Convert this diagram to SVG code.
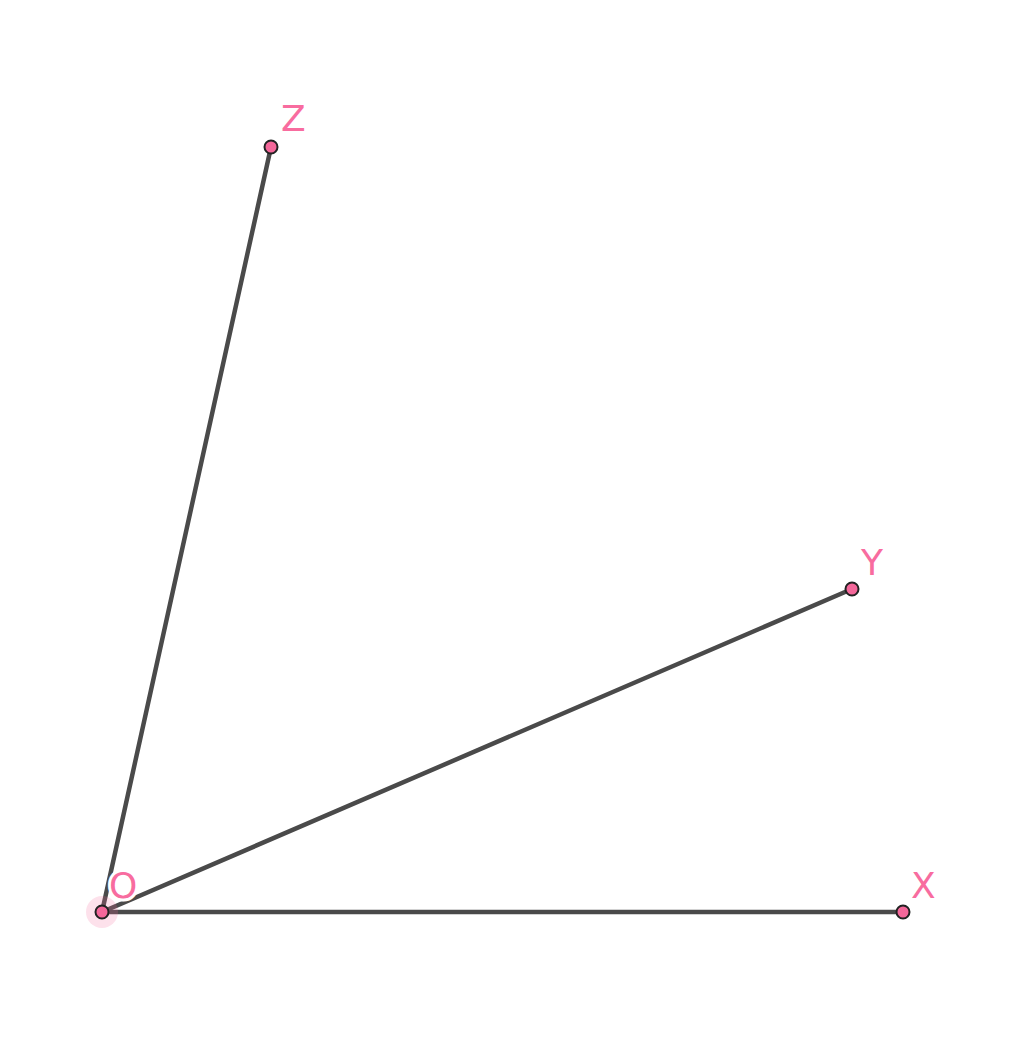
<svg xmlns="http://www.w3.org/2000/svg" width="1024" height="1043" viewBox="0 0 1024 1043">
<style>
.seg{stroke:#4a4a4a;stroke-width:4.5;stroke-linecap:round;fill:none}
.pt{fill:#f4679a;stroke:#222;stroke-width:2}
.lbl{font-family:"DejaVu Sans",sans-serif;font-size:36px;fill:#f86c9f}
.halo{stroke:#fff;stroke-width:6;paint-order:stroke}
</style>
<rect width="1024" height="1043" fill="#fff"/>
<g id="connectors">
<line class="seg" x1="102" y1="912" x2="903" y2="912"/>
<line class="seg" x1="102" y1="912" x2="852" y2="589"/>
<line class="seg" x1="102" y1="912" x2="271" y2="147"/>
</g>
<g id="node-O">
<circle cx="102" cy="912" r="16" fill="#f4679a" fill-opacity="0.2"/>
<circle class="pt" cx="102" cy="912" r="6.5"/>
<text class="lbl halo" x="109" y="898">O</text>
</g>
<g id="node-X">
<circle class="pt" cx="903" cy="912" r="6.5"/>
<text class="lbl" x="911" y="898">X</text>
</g>
<g id="node-Y">
<circle class="pt" cx="852" cy="589" r="6.5"/>
<text class="lbl" x="861" y="575">Y</text>
</g>
<g id="node-Z">
<circle class="pt" cx="271" cy="147" r="6.5"/>
<text class="lbl" x="281" y="131">Z</text>
</g>
</svg>
